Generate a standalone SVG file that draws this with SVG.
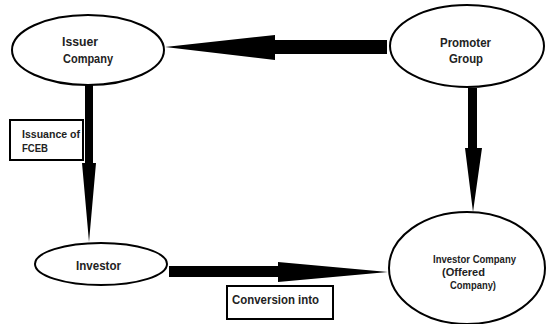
<svg xmlns="http://www.w3.org/2000/svg" width="547" height="324" viewBox="0 0 547 324">
  <style>
    .node { fill: #ffffff; stroke: #000000; stroke-width: 2; }
    .box { fill: #ffffff; stroke: #000000; stroke-width: 2; }
    .arrow { fill: #000000; stroke: none; }
    text { font-family: "Liberation Sans", Arial, sans-serif; font-weight: bold; fill: #222222; }
    .big { font-size: 12.5px; }
    .small { font-size: 11px; }
  </style>
  <rect width="547" height="324" fill="#ffffff"/>

  <!-- connectors: thick block arrows -->
  <g id="connectors">
    <!-- Promoter Group to Issuer Company -->
    <polygon class="arrow" points="387,40 275,40 275,35 165,47 275,60 275,54 387,54"/>
    <!-- Issuer Company to Investor -->
    <polygon class="arrow" points="85,85 93,85 93,163 96,163 89,242 82,163 85,163"/>
    <!-- Promoter Group to Investor Company -->
    <polygon class="arrow" points="468,88 477,88 477,148 482,148 473,212 465,148 468,148"/>
    <!-- Investor to Investor Company -->
    <polygon class="arrow" points="169,266 278,266 278,262 388,272 278,282 278,277 169,277"/>
  </g>

  <g id="issuer-company">
    <ellipse class="node" cx="88" cy="50" rx="76" ry="35"/>
    <text class="big" x="62" y="46" textLength="36" lengthAdjust="spacingAndGlyphs">Issuer</text>
    <text class="big" x="63" y="63" textLength="50" lengthAdjust="spacingAndGlyphs">Company</text>
  </g>

  <g id="promoter-group">
    <ellipse class="node" cx="467" cy="46" rx="77" ry="41"/>
    <text class="big" x="440" y="47" textLength="51" lengthAdjust="spacingAndGlyphs">Promoter</text>
    <text class="big" x="449" y="63" textLength="34" lengthAdjust="spacingAndGlyphs">Group</text>
  </g>

  <g id="issuance-label">
    <rect class="box" x="10" y="120" width="73" height="40"/>
    <text class="small" x="22" y="138" textLength="58" lengthAdjust="spacingAndGlyphs">Issuance of</text>
    <text class="small" x="22" y="152" textLength="26" lengthAdjust="spacingAndGlyphs">FCEB</text>
  </g>

  <g id="investor">
    <ellipse class="node" cx="101" cy="264" rx="66" ry="21"/>
    <text class="big" x="76" y="270" textLength="45" lengthAdjust="spacingAndGlyphs">Investor</text>
  </g>

  <g id="conversion-label">
    <rect class="box" x="227" y="286" width="106" height="33"/>
    <text class="big" x="232" y="304" textLength="87" lengthAdjust="spacingAndGlyphs">Conversion into</text>
  </g>

  <g id="investor-company">
    <ellipse class="node" cx="467" cy="268" rx="78" ry="56"/>
    <text class="small" x="433" y="263" textLength="83" lengthAdjust="spacingAndGlyphs">Investor Company</text>
    <text class="small" x="442" y="276" textLength="43" lengthAdjust="spacingAndGlyphs">(Offered</text>
    <text class="small" x="450" y="289" textLength="46" lengthAdjust="spacingAndGlyphs">Company)</text>
  </g>
</svg>
